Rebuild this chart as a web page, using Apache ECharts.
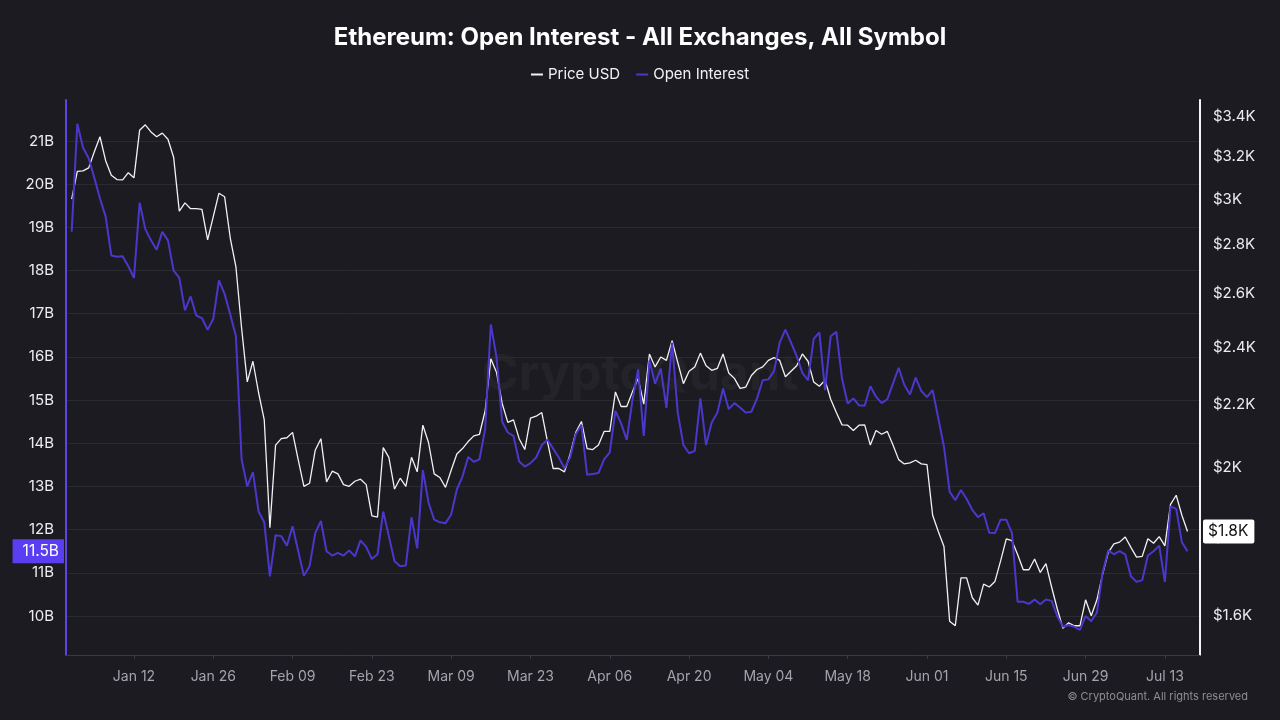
<!DOCTYPE html>
<html>
<head>
<meta charset="utf-8">
<title>Ethereum: Open Interest</title>
<script src="https://cdn.jsdelivr.net/npm/echarts@6/dist/echarts.min.js"></script>
<style>
  html, body { margin: 0; padding: 0; background: #1c1b21; }
  #container { width: 1280px; height: 720px; }
</style>
</head>
<body>
<div id="container"></div>
<script>
// daily series, first point = Jan 01
const startDay = [2023, 0, 1]
const tickDates = [[0, 12], [0, 26], [1, 9], [1, 23], [2, 9], [2, 23], [3, 6],
  [3, 20], [4, 4], [4, 18], [5, 1], [5, 15], [5, 29], [6, 13]]
const oiTicks = [10, 11, 12, 13, 14, 15, 16, 17, 18, 19, 20, 21]
const priceTicks = [1600, 1800, 2000, 2200, 2400, 2600, 2800, 3000, 3200, 3400]

// Price USD
const priceUsd = [
  3000, 3128, 3131, 3145, 3222, 3296, 3179, 3110, 3090, 3088,
  3122, 3098, 3329, 3356, 3320, 3296, 3314, 3284, 3196, 2946,
  2983, 2957, 2957, 2954, 2821, 2922, 3027, 3011, 2829, 2708,
  2470, 2277, 2349, 2240, 2150, 1827, 2070, 2090, 2093, 2110,
  2024, 1945, 1954, 2054, 2090, 1958, 1990, 1982, 1950, 1945,
  1960, 1966, 1950, 1860, 1857, 2062, 2032, 1937, 1969, 1945,
  2032, 1988, 2133, 2078, 1982, 1971, 1942, 1993, 2042, 2059,
  2081, 2099, 2104, 2180, 2358, 2310, 2204, 2142, 2150, 2090,
  2056, 2156, 2162, 2174, 2081, 1998, 1998, 1988, 2042, 2110,
  2145, 2059, 2056, 2070, 2113, 2113, 2243, 2194, 2194, 2243,
  2289, 2202, 2375, 2329, 2364, 2352, 2423, 2345, 2271, 2314,
  2329, 2378, 2333, 2317, 2324, 2375, 2308, 2289, 2255, 2259,
  2299, 2320, 2329, 2352, 2362, 2352, 2295, 2314, 2333, 2375,
  2349, 2277, 2262, 2283, 2218, 2174, 2134, 2133, 2116, 2133,
  2134, 2070, 2116, 2104, 2113, 2070, 2025, 2012, 2015, 2023,
  2012, 2010, 1862, 1817, 1776, 1587, 1576, 1694, 1694, 1644,
  1626, 1678, 1671, 1685, 1738, 1797, 1792, 1755, 1715, 1715,
  1743, 1708, 1731, 1671, 1617, 1570, 1583, 1576, 1576, 1639,
  1600, 1639, 1703, 1760, 1783, 1788, 1802, 1774, 1748, 1750,
  1797, 1785, 1803, 1778, 1893, 1919, 1862, 1817
]

// Open Interest, billions
const openInterest = [
  18.9, 21.4, 20.85, 20.6, 20.15, 19.67, 19.25, 18.35, 18.32, 18.33,
  18.1, 17.83, 19.57, 18.96, 18.7, 18.48, 18.9, 18.7, 18.0, 17.83,
  17.08, 17.4, 16.96, 16.9, 16.63, 16.88, 17.77, 17.46, 16.98, 16.48,
  13.63, 13.0, 13.33, 12.42, 12.17, 10.92, 11.87, 11.85, 11.63, 12.08,
  11.5, 10.93, 11.15, 11.92, 12.2, 11.5, 11.4, 11.46, 11.4, 11.52,
  11.38, 11.75, 11.6, 11.32, 11.43, 12.42, 11.85, 11.27, 11.15, 11.17,
  12.29, 11.57, 13.38, 12.63, 12.23, 12.17, 12.15, 12.35, 12.93, 13.23,
  13.68, 13.57, 13.63, 14.33, 16.75, 16.0, 14.5, 14.25, 14.17, 13.58,
  13.46, 13.54, 13.67, 13.96, 14.08, 13.88, 13.67, 13.42, 13.67, 14.21,
  14.42, 13.27, 13.29, 13.31, 13.63, 13.79, 14.75, 14.46, 14.08, 15.0,
  15.71, 14.17, 15.92, 15.38, 15.73, 14.82, 16.33, 14.71, 13.96, 13.77,
  13.82, 15.04, 13.96, 14.48, 14.71, 15.27, 14.79, 14.93, 14.83, 14.71,
  14.73, 15.04, 15.46, 15.48, 15.67, 16.33, 16.63, 16.33, 16.02, 15.63,
  15.46, 16.42, 16.57, 15.23, 16.48, 16.58, 15.5, 14.92, 15.04, 14.88,
  14.87, 15.32, 15.08, 14.93, 15.02, 15.38, 15.75, 15.35, 15.13, 15.52,
  15.21, 15.07, 15.23, 14.58, 13.92, 12.88, 12.68, 12.92, 12.71, 12.46,
  12.29, 12.38, 11.93, 11.92, 12.23, 12.23, 11.92, 10.33, 10.33, 10.28,
  10.38, 10.27, 10.38, 10.35, 10.0, 9.75, 9.79, 9.75, 9.68, 10.0,
  9.88, 10.08, 11.0, 11.52, 11.43, 11.5, 11.43, 10.92, 10.79, 10.83,
  11.4, 11.5, 11.63, 10.79, 12.54, 12.48, 11.71, 11.5
]

const MONTHS = ['Jan', 'Feb', 'Mar', 'Apr', 'May', 'Jun', 'Jul', 'Aug', 'Sep', 'Oct', 'Nov', 'Dec']
const DAY = 86400000
const dates = priceUsd.map((_, i) => Date.UTC(startDay[0], startDay[1], startDay[2] + i))
const tickValues = tickDates.map(d => Date.UTC(startDay[0], d[0], d[1]))
const t0 = dates[0]

const FONT = 'Inter, "Noto Sans", sans-serif'
const PURPLE = '#4a38cc'

const option = {
  backgroundColor: '#1c1b21',
  animation: false,
  textStyle: { fontFamily: FONT },
  title: {
    text: 'Ethereum: Open Interest - All Exchanges, All Symbol',
    left: 'center',
    top: 21,
    textStyle: { color: '#ffffff', fontSize: 24, fontWeight: 'bold', fontFamily: FONT }
  },
  legend: {
    top: 62,
    left: 'center',
    icon: 'rect',
    itemWidth: 12,
    itemHeight: 2,
    itemGap: 16,
    textStyle: { color: '#f2f2f4', fontSize: 15, fontFamily: FONT },
    data: ['Price USD', 'Open Interest']
  },
  grid: { left: 66, right: 80, top: 100, bottom: 65 },
  xAxis: {
    type: 'value',
    min: t0 - DAY,
    max: t0 + 199.2 * DAY,
    axisLine: { lineStyle: { color: '#3a3a42' } },
    axisTick: { show: true, length: 4, lineStyle: { color: '#3a3a42' }, customValues: tickValues },
    splitLine: { show: false },
    axisLabel: {
      customValues: tickValues,
      color: '#a4a4ac',
      fontSize: 14,
      margin: 15,
      formatter: function (v) {
        const d = new Date(v)
        return MONTHS[d.getUTCMonth()] + ' ' + String(d.getUTCDate()).padStart(2, '0')
      }
    }
  },
  yAxis: [
    {
      type: 'value',
      position: 'left',
      min: 9.097,
      max: 21.95,
      axisLine: { show: true, lineStyle: { color: '#5a46e6', width: 2 } },
      axisTick: { show: false, customValues: oiTicks },
      axisLabel: { customValues: oiTicks, color: '#ececef', fontSize: 15, margin: 12, formatter: v => v + 'B' },
      splitLine: { show: true, lineStyle: { color: '#2a2a31', width: 1 } }
    },
    {
      type: 'log',
      position: 'right',
      min: 1508,
      max: 3484,
      axisLine: { show: true, lineStyle: { color: '#f4f4f6', width: 2 } },
      axisTick: { show: false, customValues: priceTicks },
      axisLabel: {
        customValues: priceTicks,
        color: '#ececef',
        fontSize: 15,
        margin: 13,
        formatter: v => '$' + (v / 1000) + 'K'
      },
      splitLine: { show: false }
    }
  ],
  series: [
    {
      name: 'Price USD',
      type: 'line',
      yAxisIndex: 1,
      showSymbol: false,
      clip: false,
      color: '#f2f2f4',
      lineStyle: { color: '#f2f2f4', width: 1.3 },
      data: priceUsd.map((v, i) => [dates[i], v]),
      markLine: {
        silent: true,
        symbol: 'none',
        lineStyle: { color: 'rgba(0,0,0,0)', width: 0 },
        data: [{ yAxis: priceUsd[priceUsd.length - 1] }],
        label: {
          show: true,
          position: 'end',
          distance: 3,
          opacity: 1,
          formatter: p => '$' + (p.value / 1000).toFixed(1) + 'K',
          backgroundColor: '#ffffff',
          color: '#111114',
          fontSize: 15.5,
          padding: [4, 6, 4, 5],
          borderRadius: 2
        }
      }
    },
    {
      name: 'Open Interest',
      type: 'line',
      yAxisIndex: 0,
      showSymbol: false,
      clip: false,
      color: PURPLE,
      lineStyle: { color: PURPLE, width: 2 },
      data: openInterest.map((v, i) => [dates[i], v]),
      markLine: {
        silent: true,
        symbol: 'none',
        lineStyle: { color: 'rgba(0,0,0,0)', width: 0 },
        data: [{ yAxis: openInterest[openInterest.length - 1] }],
        label: {
          show: true,
          position: 'start',
          distance: 2,
          opacity: 1,
          formatter: p => p.value + 'B',
          backgroundColor: '#5a3ff2',
          color: '#ffffff',
          fontSize: 15.5,
          padding: [4, 5, 4, 10]
        }
      }
    }
  ],
  graphic: [
    {
      type: 'text',
      left: 'center',
      top: 350,
      z: 0,
      silent: true,
      style: { text: 'CryptoQuant', fill: 'rgba(255,255,255,0.035)', fontSize: 50, fontWeight: 'bold', fontFamily: FONT }
    },
    {
      type: 'text',
      right: 32,
      top: 691,
      silent: true,
      style: { text: '© CryptoQuant. All rights reserved', fill: '#8d8d94', fontSize: 11, fontFamily: FONT }
    }
  ]
}

const chart = echarts.init(document.getElementById('container'))
chart.setOption(option)
window.addEventListener('resize', () => chart.resize())
</script>
</body>
</html>
